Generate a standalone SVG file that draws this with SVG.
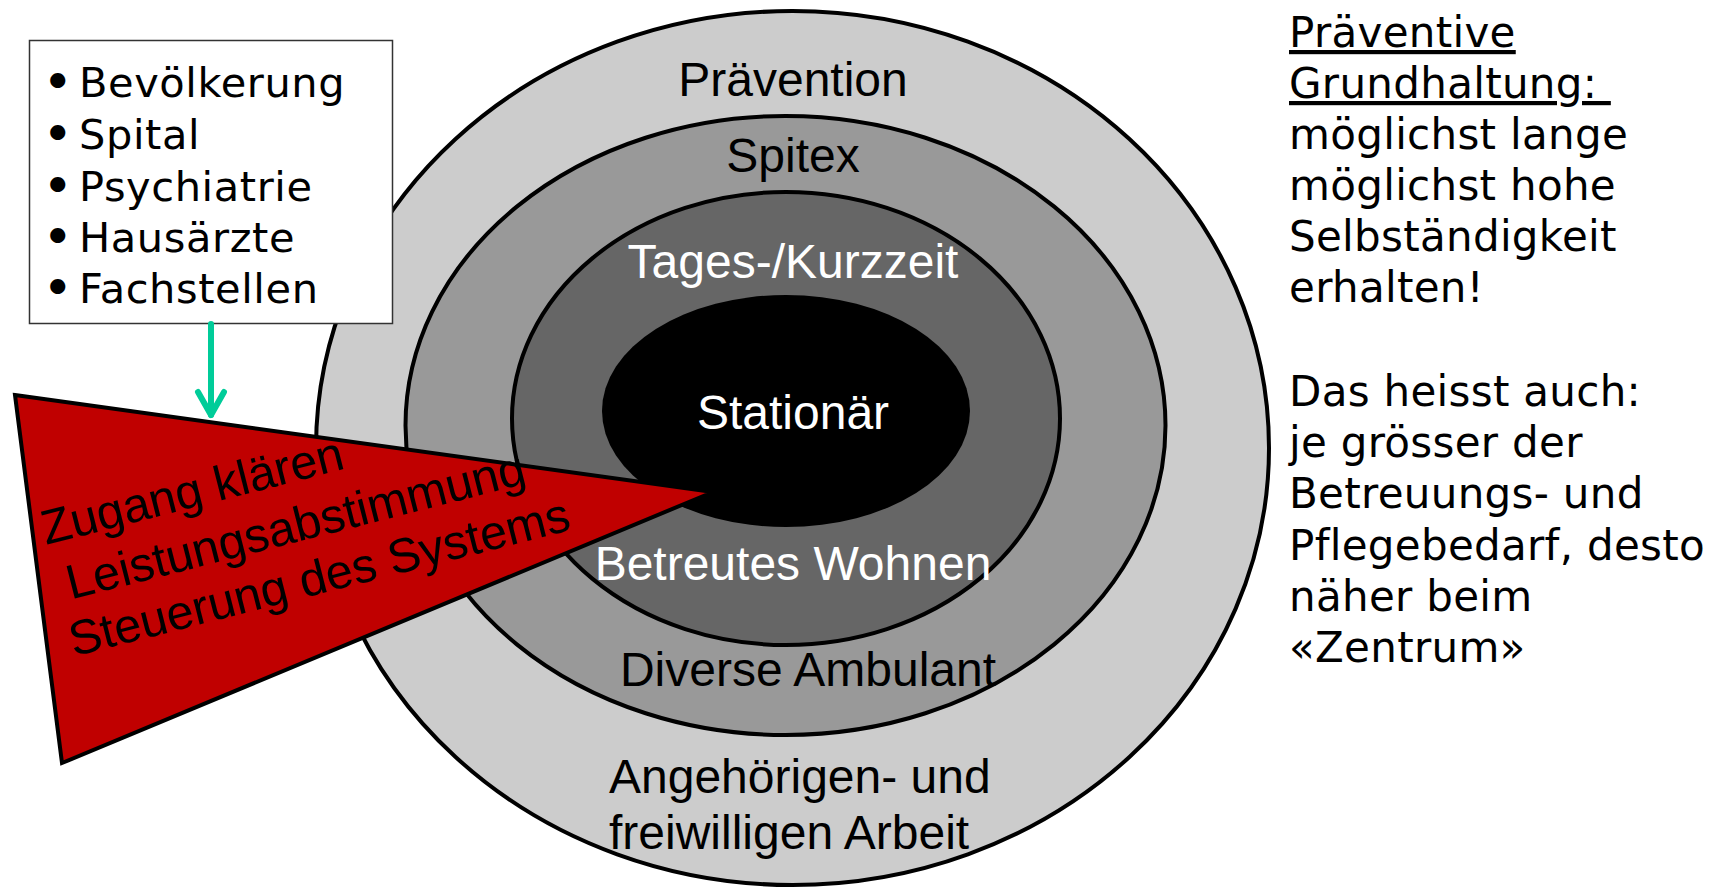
<svg xmlns="http://www.w3.org/2000/svg" width="1715" height="887" viewBox="0 0 1715 887">
<style>
.ring{stroke:#000;stroke-width:4}
.lbl{font-family:"Liberation Sans",Arial,sans-serif;font-size:48px;text-anchor:middle}
.blk{fill:#000}
.wht{fill:#fff}
.dv{font-family:"DejaVu Sans",Verdana,sans-serif;fill:#000}
.red{font-family:"Liberation Sans",Arial,sans-serif;font-size:48.5px;fill:#000}
.bul{font-size:43px;font-weight:bold;text-anchor:middle}
</style>
<rect width="1715" height="887" fill="#fff"/>
<g id="ring-praevention">
<ellipse class="ring" cx="792.5" cy="448" rx="476.5" ry="437" fill="#cccccc"/>
</g>
<g id="ring-spitex">
<ellipse class="ring" cx="785.5" cy="425.5" rx="380" ry="309.5" fill="#999999"/>
</g>
<g id="ring-tages">
<ellipse class="ring" cx="786" cy="418.5" rx="274" ry="226.5" fill="#666666"/>
</g>
<g id="core-stationaer">
<ellipse cx="786" cy="411" rx="184" ry="116" fill="#000"/>
</g>
<g id="labels">
<text class="lbl blk" x="793" y="96">Prävention</text>
<text class="lbl blk" x="793" y="172">Spitex</text>
<text class="lbl wht" x="793" y="278">Tages-/Kurzzeit</text>
<text class="lbl wht" x="793" y="429">Stationär</text>
<text class="lbl wht" x="793" y="580">Betreutes Wohnen</text>
<text class="lbl blk" x="808" y="686">Diverse Ambulant</text>
<text class="lbl blk" x="609" y="793" style="text-anchor:start">Angehörigen- und</text>
<text class="lbl blk" x="609" y="849" style="text-anchor:start">freiwilligen Arbeit</text>
</g>
<g id="wedge">
<polygon points="15,395 713,492 62,763" fill="#c00000" stroke="#000" stroke-width="4" stroke-linejoin="miter"/>
<g transform="translate(46,545) rotate(-14.3)">
<text class="red" x="0" y="0">Zugang klären</text>
<text class="red" x="10.7" y="59">Leistungsabstimmung</text>
<text class="red" x="-0.7" y="115">Steuerung des Systems</text>
</g>
</g>
<g id="source-box">
<rect x="29.5" y="40.5" width="363" height="283" fill="#fff" stroke="#333" stroke-width="1.5"/>
<g class="dv" font-size="41.5" letter-spacing="0.6">
<text class="bul" x="58" y="96">•</text><text x="79" y="97">Bevölkerung</text>
<text class="bul" x="58" y="148">•</text><text x="79" y="149">Spital</text>
<text class="bul" x="58" y="200">•</text><text x="79" y="201">Psychiatrie</text>
<text class="bul" x="58" y="251">•</text><text x="79" y="252">Hausärzte</text>
<text class="bul" x="58" y="302">•</text><text x="79" y="303">Fachstellen</text>
</g>
</g>
<g id="connectors">
<path d="M211,324 V415" fill="none" stroke="#00cc99" stroke-width="6" stroke-linecap="round"/>
<path d="M198,392 L211,415 L224,392" fill="none" stroke="#00cc99" stroke-width="6" stroke-linecap="round" stroke-linejoin="round"/>
</g>
<g id="note" class="dv" font-size="42" letter-spacing="0.3">
<text x="1289" y="47" text-decoration="underline">Präventive</text>
<text x="1289" y="98" text-decoration="underline" style="white-space:pre">Grundhaltung: </text>
<text x="1289" y="149">möglichst lange</text>
<text x="1289" y="200">möglichst hohe</text>
<text x="1289" y="251">Selbständigkeit</text>
<text x="1289" y="302">erhalten!</text>
<text x="1289" y="406">Das heisst auch:</text>
<text x="1289" y="457">je grösser der</text>
<text x="1289" y="508">Betreuungs- und</text>
<text x="1289" y="560">Pflegebedarf, desto</text>
<text x="1289" y="611">näher beim</text>
<text x="1289" y="662">«Zentrum»</text>
</g>
</svg>
